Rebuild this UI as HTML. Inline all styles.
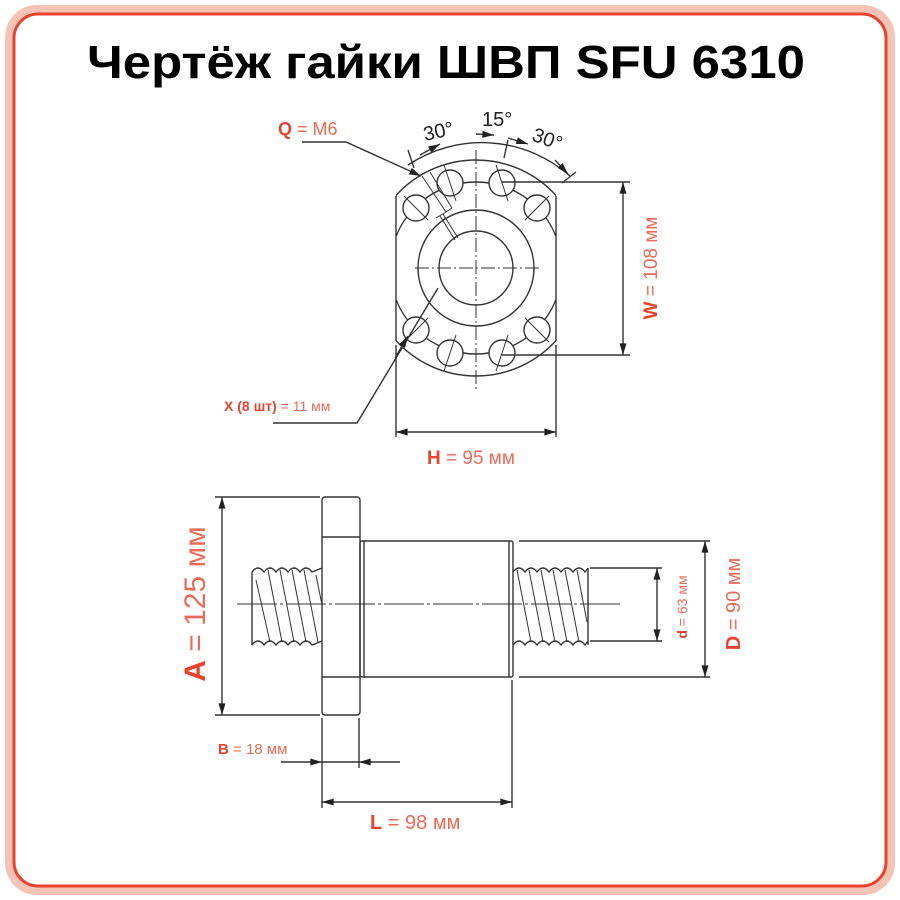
<!DOCTYPE html>
<html><head><meta charset="utf-8"><style>
html,body{margin:0;padding:0;background:#fff;}
svg{display:block;}
text{font-family:"Liberation Sans",sans-serif;}
</style></head><body>
<svg width="900" height="900" viewBox="0 0 900 900" xmlns="http://www.w3.org/2000/svg">
<defs>
<marker id="ar" viewBox="0 0 10 6" refX="10" refY="3" markerWidth="15" markerHeight="7" markerUnits="userSpaceOnUse" orient="auto-start-reverse"><path d="M0,0 L10,3 L0,6 z" fill="#222"/></marker>
<clipPath id="fl"><rect x="396" y="150" width="160" height="240"/></clipPath>
</defs>
<rect x="0" y="0" width="900" height="900" fill="#fff"/>
<rect x="5" y="5" width="890" height="890" rx="32" fill="#f6c3b7"/>
<rect x="14" y="14" width="872" height="872" rx="24" fill="#fff" stroke="#e8432e" stroke-width="3"/>
<text x="446" y="78" text-anchor="middle" font-size="46" font-weight="bold" fill="#000" textLength="718" lengthAdjust="spacingAndGlyphs">Чертёж гайки ШВП SFU 6310</text>

<g stroke="#333" stroke-width="1.4" fill="none">
<!-- top view -->
<circle cx="476" cy="268" r="108" clip-path="url(#fl)"/>
<line x1="396" y1="196" x2="396" y2="341"/>
<line x1="556" y1="196" x2="556" y2="341"/>
<circle cx="476" cy="268" r="86" clip-path="url(#fl)"/>
<circle cx="476" cy="268" r="58"/>
<circle cx="476" cy="268" r="37"/>
<g fill="#fff">
<circle cx="450" cy="183" r="13"/><circle cx="502" cy="183" r="13"/>
<circle cx="416" cy="208" r="13"/><circle cx="537" cy="208" r="13"/>
<circle cx="416" cy="330" r="13"/><circle cx="537" cy="330" r="13"/>
<circle cx="450" cy="353" r="13"/><circle cx="502" cy="353" r="13"/>
</g>
<g stroke-width="1">
<path d="M444,165 L456,201 M496,165 L508,201 M404,196 L428,220 M549,196 L525,220 M404,342 L428,318 M549,342 L525,318 M444,371 L456,335 M496,371 L508,335"/>
</g>
<g stroke-width="1" stroke-dasharray="14,3,2,3">
<line x1="476" y1="150" x2="476" y2="390"/>
<line x1="415" y1="268" x2="540" y2="268"/>
</g>
<!-- Q bolt hole sketch -->
<path d="M422,176 L446,212 M430,172 L452,208 M436,218 L446,212 L452,208 M440,216 L455,240 M443,214 L458,238" stroke-width="1"/>
<!-- angle arc -->
<path d="M408,165 A133,133 0 0 1 570,176"/>
<line x1="408" y1="150" x2="414" y2="168"/>
<line x1="508" y1="140" x2="504" y2="158"/>
<line x1="576" y1="172" x2="562" y2="183"/>
<line x1="420" y1="155" x2="440" y2="144" marker-end="url(#ar)"/>
<line x1="494" y1="135" x2="476" y2="134" marker-start="url(#ar)"/>
<line x1="508" y1="138" x2="528" y2="144" marker-end="url(#ar)"/>
<line x1="555" y1="160" x2="568" y2="174" marker-end="url(#ar)"/>
<!-- W -->
<line x1="502" y1="182" x2="630" y2="182"/>
<line x1="502" y1="355" x2="630" y2="355"/>
<line x1="623" y1="182" x2="623" y2="355" marker-start="url(#ar)" marker-end="url(#ar)"/>
<!-- H -->
<line x1="396" y1="345" x2="396" y2="437"/>
<line x1="556" y1="345" x2="556" y2="437"/>
<line x1="396" y1="432" x2="556" y2="432" marker-start="url(#ar)" marker-end="url(#ar)"/>
<!-- Q leader -->
<polyline points="302,142 346,142 421,176" marker-end="url(#ar)"/>
<!-- X leader -->
<polyline points="273,423 357,423 438,288" />
<line x1="395" y1="358" x2="408" y2="336" marker-end="url(#ar)"/>

<!-- side view -->
<rect x="322" y="497" width="38" height="218" rx="3"/>
<line x1="322" y1="537" x2="360" y2="537"/>
<line x1="322" y1="677" x2="360" y2="677"/>
<rect x="360" y="541" width="153" height="136" rx="2"/>
<line x1="364" y1="541" x2="364" y2="677"/>
<line x1="509" y1="541" x2="509" y2="677"/>
<!-- screws -->
<path d="M252,572 q6,-8 12,0 q6,-8 12,0 q6,-8 12,0 q6,-8 12,0 q6,-8 12,0 L322,568 M252,645 q6,-8 12,0 q6,-8 12,0 q6,-8 12,0 q6,-8 12,0 q6,-8 12,0 L322,641 M252,572 L252,645"/>
<g stroke-width="1"><path d="M256,580 L270,642 M268,570 L282,642 M280,570 L294,642 M292,570 L306,642 M304,570 L318,642 M316,575 L322,605"/></g>
<path d="M513,572 q6,-8 12,0 q6,-8 12,0 q6,-8 12,0 q6,-8 12,0 q6,-8 12,0 q6,-8 12,0 L588,568 M513,645 q6,-8 12,0 q6,-8 12,0 q6,-8 12,0 q6,-8 12,0 q6,-8 12,0 q6,-8 12,0 L588,641 M588,568 L588,645"/>
<g stroke-width="1"><path d="M517,570 L531,642 M529,570 L543,642 M541,570 L555,642 M553,570 L567,642 M565,570 L579,642 M577,570 L587,622"/></g>
<line x1="237" y1="604" x2="620" y2="604" stroke-width="1" stroke-dasharray="40,3,3,3"/>
<!-- A -->
<line x1="215" y1="497" x2="320" y2="497"/>
<line x1="215" y1="715" x2="320" y2="715"/>
<line x1="222" y1="497" x2="222" y2="715" marker-start="url(#ar)" marker-end="url(#ar)"/>
<!-- d -->
<line x1="590" y1="568" x2="662" y2="568"/>
<line x1="590" y1="641" x2="662" y2="641"/>
<line x1="657" y1="568" x2="657" y2="641" marker-start="url(#ar)" marker-end="url(#ar)"/>
<!-- D -->
<line x1="519" y1="541" x2="710" y2="541"/>
<line x1="519" y1="677" x2="710" y2="677"/>
<line x1="705" y1="541" x2="705" y2="677" marker-start="url(#ar)" marker-end="url(#ar)"/>
<!-- B -->
<line x1="322" y1="718" x2="322" y2="808"/>
<line x1="359" y1="718" x2="359" y2="768"/>
<line x1="281" y1="762" x2="322" y2="762" marker-end="url(#ar)"/>
<line x1="400" y1="762" x2="359" y2="762" marker-end="url(#ar)"/>
<line x1="322" y1="762" x2="359" y2="762"/>
<!-- L -->
<line x1="512" y1="680" x2="512" y2="808"/>
<line x1="322" y1="802" x2="512" y2="802" marker-start="url(#ar)" marker-end="url(#ar)"/>
</g>

<g font-size="20" fill="#222">
<text x="423" y="138" transform="rotate(-12 438 130)">30°</text>
<text x="482" y="126">15°</text>
<text x="532" y="146" transform="rotate(20 548 140)">30°</text>
</g>

<g fill="#e8432e">
<text x="278" y="135" font-size="18"><tspan font-weight="bold">Q</tspan><tspan fill="#ec6a58"> = M6</tspan></text>
<text x="224" y="411" font-size="14"><tspan font-weight="bold">X (8 шт)</tspan><tspan fill="#ec6a58"> = 11 мм</tspan></text>
<text x="427" y="464" font-size="19"><tspan font-weight="bold">H</tspan><tspan fill="#ec6a58"> = 95 мм</tspan></text>
<text transform="translate(657 268) rotate(-90)" text-anchor="middle" font-size="19"><tspan font-weight="bold">W</tspan><tspan fill="#ec6a58"> = 108 мм</tspan></text>
<text transform="translate(205 604) rotate(-90)" text-anchor="middle" font-size="30"><tspan font-weight="bold">A</tspan><tspan fill="#ec6a58"> = 125 мм</tspan></text>
<text transform="translate(687 607) rotate(-90)" text-anchor="middle" font-size="14"><tspan font-weight="bold">d</tspan><tspan fill="#ec6a58"> = 63 мм</tspan></text>
<text transform="translate(740 604) rotate(-90)" text-anchor="middle" font-size="20"><tspan font-weight="bold">D</tspan><tspan fill="#ec6a58"> = 90 мм</tspan></text>
<text x="218" y="754" font-size="15"><tspan font-weight="bold">B</tspan><tspan fill="#ec6a58"> = 18 мм</tspan></text>
<text x="370" y="829" font-size="20"><tspan font-weight="bold">L</tspan><tspan fill="#ec6a58"> = 98 мм</tspan></text>
</g>
</svg>
</body></html>
